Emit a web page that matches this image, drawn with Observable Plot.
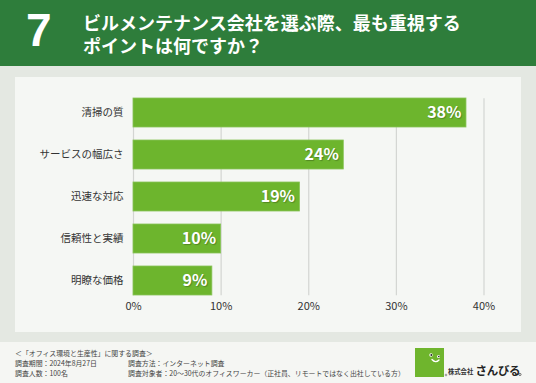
<!DOCTYPE html>
<html>
<head>
<meta charset="utf-8">
<script src="https://cdn.jsdelivr.net/npm/d3@7"></script>
<script src="https://cdn.jsdelivr.net/npm/@observablehq/plot@0.6"></script>
<style>
  html, body { margin: 0; padding: 0; }
  body { width: 536px; height: 383px; position: relative; overflow: hidden; background: #e4e8e2; font-family: "Noto Sans CJK JP", "Noto Sans", sans-serif; }
  #header { position: absolute; left: 0; top: 0; width: 536px; height: 66px; background: #2e7d3b; }
  #num { position: absolute; left: 26px; top: 7px; font-size: 46px; line-height: 46px; font-weight: bold; color: #fff; font-family: "Liberation Sans", "Noto Sans", sans-serif; }
  .tl { position: absolute; left: 83px; font-size: 18px; line-height: 20px; font-weight: bold; color: #fff; white-space: nowrap; }
  #panel { position: absolute; left: 15px; top: 77px; width: 506px; height: 255px; background: #f5f7f4; }
  #chart { position: absolute; left: 0; top: 77px; }
  #footer { position: absolute; left: 0; top: 342px; width: 536px; height: 41px; background: #f5f6f3; }
  .ft { position: absolute; font-size: 6.9px; line-height: 9px; color: #444; white-space: nowrap; }
  .val text { text-shadow: 1px 1px 1px rgba(0,0,0,0.25); }
</style>
</head>
<body>
<div id="header"><div id="num"></div></div>
<div id="panel"></div>
<div id="chart"></div>
<div id="footer"></div>
<script>
const questionNumber = "7";
const titleLines = ["ビルメンテナンス会社を選ぶ際、最も重視する", "ポイントは何ですか？"];
const categories = ["清掃の質", "サービスの幅広さ", "迅速な対応", "信頼性と実績", "明瞭な価格"];
const values = [38, 24, 19, 10, 9];
const xTicks = [0, 10, 20, 30, 40];
const footerCol1 = ["＜「オフィス環境と生産性」に関する調査＞", "調査期間：2024年8月27日", "調査人数：100名"];
const footerCol2 = ["", "調査方法：インターネット調査", "調査対象者：20～30代のオフィスワーカー（正社員、リモートではなく出社している方）"];
const brandSmall = "株式会社";
const brandName = "さんびる";

document.getElementById("num").textContent = questionNumber;
const header = document.getElementById("header");
titleLines.forEach((t, i) => {
  const d = document.createElement("div"); d.className = "tl"; d.textContent = t;
  d.style.top = (12 + i * 23) + "px"; header.appendChild(d);
});

const data = categories.map((c, i) => ({category: c, value: values[i]}));

const chart = Plot.plot({
  width: 536,
  height: 255,
  marginLeft: 133,
  marginRight: 52.5,
  marginTop: 21.3,
  marginBottom: 36.7,
  style: {background: "transparent", fontFamily: "'Noto Sans CJK JP', sans-serif"},
  x: {domain: [0, 40], ticks: xTicks},
  y: {domain: categories, paddingInner: 0.31, paddingOuter: 0},
  marks: [
    Plot.ruleX(xTicks, {stroke: "#d3d5d2", strokeWidth: 1.2}),
    Plot.barX(data, {x: "value", y: "category", fill: "#6db52d", stroke: "#88c458", strokeWidth: 0.8}),
    Plot.text(data, {x: "value", y: "category", text: d => d.value + "%", textAnchor: "end", dx: -5, fill: "#fff", fontWeight: "bold", fontSize: 16, className: "val"}),
    Plot.axisX({ticks: xTicks, tickFormat: d => d + "%", tickSize: 0, tickPadding: 6, fontSize: 11, color: "#333", label: null}),
    Plot.axisY({tickSize: 0, tickPadding: 10, fontSize: 10.5, color: "#333", label: null})
  ]
});
document.getElementById("chart").appendChild(chart);

const footer = document.getElementById("footer");
footerCol1.forEach((t, i) => {
  const d = document.createElement("div"); d.className = "ft"; d.textContent = t;
  d.style.left = "15px"; d.style.top = (7 + i * 9.8) + "px"; footer.appendChild(d);
});
footerCol2.forEach((t, i) => {
  if (!t) return;
  const d = document.createElement("div"); d.className = "ft"; d.textContent = t;
  d.style.left = "128px"; d.style.top = (7 + i * 9.8) + "px"; footer.appendChild(d);
});
// logo
const logo = document.createElementNS("http://www.w3.org/2000/svg", "svg");
logo.setAttribute("width", 131); logo.setAttribute("height", 41);
logo.style.position = "absolute"; logo.style.left = "405px"; logo.style.top = "0px";
logo.innerHTML = `
  <rect x="10" y="6" width="29" height="29" fill="#6fb52d"/>
  <circle cx="26" cy="13" r="1.7" fill="#fff"/><circle cx="26.3" cy="13" r="0.9" fill="#222"/>
  <circle cx="33.5" cy="14.5" r="1.5" fill="#fff"/><circle cx="33.8" cy="14.5" r="0.8" fill="#222"/>
  <path d="M27 17.5 Q30.5 21.5 34 18" fill="none" stroke="#fff" stroke-width="1.4" stroke-linecap="round"/>
  <circle cx="41" cy="33" r="0.9" fill="none" stroke="#444" stroke-width="0.5"/>
  <text x="43" y="32" font-size="6.3" fill="#333" font-weight="bold" font-family="Noto Sans CJK JP">${brandSmall}</text>
  <text x="70.5" y="33" font-size="11.5" fill="#222" font-weight="bold" font-family="Noto Sans CJK JP" letter-spacing="-0.3">${brandName}</text>
  <circle cx="115" cy="32.5" r="1.1" fill="none" stroke="#222" stroke-width="0.6"/>`;
footer.appendChild(logo);
</script>
</body>
</html>
